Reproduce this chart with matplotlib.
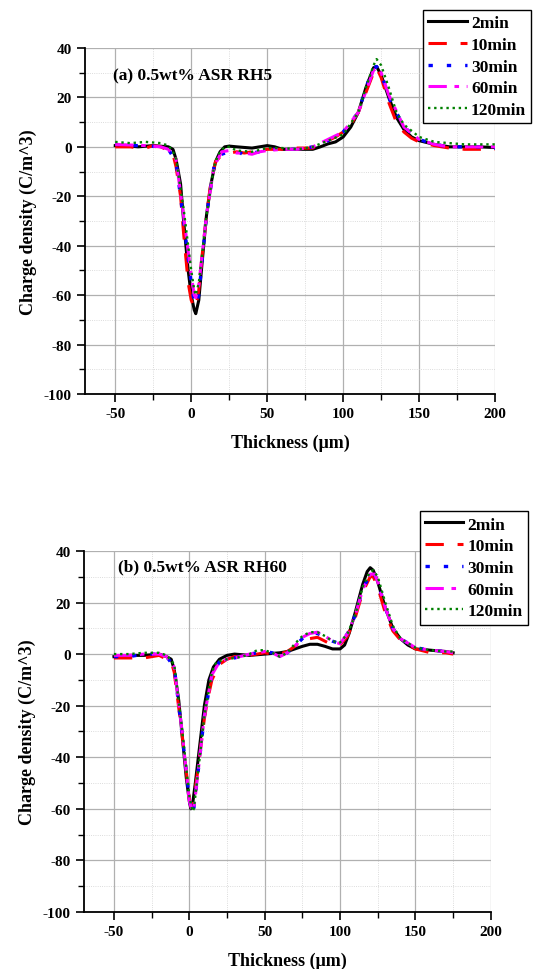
import numpy as np
import matplotlib.pyplot as plt
from matplotlib.ticker import MultipleLocator

plt.rcParams['font.family'] = ['Liberation Serif', 'DejaVu Serif']
plt.rcParams['font.weight'] = 'bold'
plt.rcParams['axes.unicode_minus'] = False

labels = ['2min', '10min', '30min', '60min', '120min']

# ---- panel (a) RH5 ----
a_x_2 = [-50, -40, -35, -25, -15, -12, -10, -7, -5, -2, 0, 2, 3, 5, 7, 10, 13, 16, 19, 22, 25,
         30, 40, 45, 50, 55, 60, 70, 80, 85, 90, 95, 100, 105, 110, 115, 120, 122, 125, 130,
         135, 140, 145, 150, 160, 170, 180, 190, 200]
a_y_2 = [0.5, 0.3, 0, 0.5, 0, -1, -5, -15, -30, -50, -60, -66, -67.5, -62, -48, -28, -15, -6,
         -2, 0, 0.3, 0, -0.5, 0, 0.5, 0, -1, -1, -1, 0, 1.2, 2, 4, 8, 14, 24, 32, 32.5, 29, 20,
         12, 7, 4, 2.5, 1, 0, 0, 0, -0.3]
a_x_10 = [-50, -40, -35, -30, -25, -20, -15, -12, -10, -7, -5, -2, 0, 2, 3, 5, 7, 10, 13, 16,
          19, 22, 25, 30, 35, 40, 45, 50, 60, 70, 80, 85, 90, 95, 100, 105, 110, 115, 120, 122,
          125, 130, 135, 140, 145, 150, 160, 170, 180, 190, 200]
a_y_10 = [0, 0, -0.5, -0.5, 0.5, 0, -1.5, -3, -8, -20, -35, -55, -62, -65, -65, -58, -45, -28,
          -14, -6, -4, -3.5, -2.5, -2, -2.5, -2, -1.5, -1, -1, -0.5, -0.5, 1.5, 2.5, 4, 6, 9, 14,
          22, 30, 32, 28, 18, 10, 6, 3.5, 2, 0.5, -0.5, -1, -1, -1]
a_x_30 = [-50, -40, -30, -20, -15, -10, -5, 0, 2, 3, 5, 10, 15, 20, 25, 30, 35, 40, 45, 50, 60,
          70, 80, 90, 100, 110, 115, 120, 122, 125, 130, 140, 150, 160, 170, 180, 190, 200]
a_y_30 = [1, 0.5, 0.5, 0, -1, -6, -30, -55, -63, -64, -60, -28, -8, -3, -2, -1.5, -3.5, -2.5,
          -2, -1, -1, -1, 0, 2.5, 6, 14, 24, 32, 32.5, 30, 20, 8, 3, 1, 0, 0, 0, -0.5]
a_x_60 = [-50, -30, -20, -15, -10, -5, 0, 2, 3, 5, 10, 15, 20, 25, 30, 35, 40, 45, 50, 60, 70,
          80, 90, 100, 110, 120, 123, 125, 130, 140, 150, 160, 170, 200]
a_y_60 = [1, 0.5, 0, -1, -5, -28, -52, -60, -61, -56, -28, -8, -2, -1.5, -2.5, -2.5, -3, -2,
          -1.5, -1, -1, 0, 3, 6, 14, 31, 32, 30, 21, 8, 3, 1, 0, 0]
a_x_120 = [-50, -40, -30, -20, -15, -12, -10, -5, 0, 2, 3, 5, 10, 15, 18, 22, 25, 30, 40, 50, 60,
           70, 80, 90, 100, 110, 115, 120, 122, 125, 130, 135, 140, 150, 160, 170, 180, 190, 200]
a_y_120 = [2, 1.5, 2, 1.5, 0.5, -2, -5, -25, -50, -58, -60, -55, -28, -8, -3, 0, 0, -1.5, -2,
           -0.5, -0.5, -1, 0, 2.5, 5, 14, 24, 33, 35.5, 33, 24, 14, 9, 4, 2, 1.5, 1, 1, 1]

# ---- panel (b) RH60 ----
b_x_2 = [-50, -40, -30, -20, -15, -12, -10, -7, -5, -2, 0, 1, 2, 4, 7, 10, 13, 16, 20, 25, 30,
         40, 50, 60, 65, 70, 75, 80, 85, 90, 95, 100, 103, 106, 110, 115, 118, 120, 122, 125,
         130, 135, 140, 145, 150, 160, 170, 175]
b_y_2 = [-1, -0.5, -0.5, 0, -1, -2, -6, -18, -30, -48, -57, -60, -59, -50, -35, -20, -10, -5,
         -2, -0.5, 0, -0.5, 0, 0.5, 1, 2, 3, 3.8, 3.8, 3, 2, 2, 3.5, 8, 16, 27, 32, 33.5, 32.5,
         28, 18, 10, 6, 3.5, 2, 1.5, 1, 0.5]
b_x_10 = [-50, -40, -30, -25, -20, -15, -12, -10, -5, 0, 1, 2, 5, 10, 12, 15, 20, 25, 30, 40,
          50, 55, 60, 65, 70, 75, 80, 85, 90, 95, 100, 105, 110, 115, 120, 122, 125, 130, 135,
          140, 150, 160, 170, 175]
b_y_10 = [-1.5, -1.5, -1.5, -1, -0.5, -2, -3, -7, -30, -56, -59, -59, -48, -25, -18, -10, -4,
          -2, -1, -0.5, 0.5, 0, 0, 1, 3, 5.5, 6, 6.5, 5, 3.5, 3.5, 7, 14, 24, 30, 30, 26, 16, 9,
          5.5, 2, 0.5, 0.5, 0]
b_x_30 = [-50, -40, -30, -20, -15, -10, -5, 0, 2, 3, 5, 10, 15, 20, 25, 30, 40, 50, 55, 60, 65,
          70, 75, 80, 85, 90, 95, 100, 105, 110, 115, 120, 122, 125, 130, 135, 140, 150, 160,
          170, 175]
b_y_30 = [-1, -1, 0, 0, -1, -5, -30, -56, -62, -60, -50, -24, -8, -3, -2, -1.5, 0, 1, 0.5, -1,
          0.5, 3, 6, 8, 8, 6.5, 5, 4, 8, 15, 25, 31, 32, 28, 18, 10, 6, 2.5, 1.5, 1, 0.5]
b_x_60 = [-50, -40, -30, -20, -15, -10, -5, 0, 2, 3, 5, 10, 15, 20, 25, 30, 40, 50, 55, 60, 65,
          70, 75, 80, 85, 90, 95, 100, 105, 110, 115, 120, 123, 125, 130, 135, 140, 150, 160,
          170, 175]
b_y_60 = [-0.5, -0.5, 0, 0, -1, -5, -29, -57, -61, -60, -50, -24, -8, -3, -2, -1.5, 0, 1, 0.5,
          -1, 0.5, 3, 6.5, 8, 8.5, 7, 5, 4, 8, 15, 25, 31, 31, 28, 18, 10, 6, 2.5, 1.5, 1, 0.5]
b_x_120 = [-50, -40, -30, -20, -15, -10, -5, 0, 2, 3, 5, 10, 15, 18, 25, 30, 35, 40, 45, 50, 55,
           60, 65, 70, 75, 80, 85, 90, 95, 100, 105, 110, 115, 120, 122, 125, 130, 135, 140,
           150, 160, 170, 175]
b_y_120 = [0, 0, 0.5, 0.5, -0.5, -4, -28, -55, -61, -60, -50, -24, -7, -3, -2, -1.5, -1, 0,
           1.5, 1.5, 0.5, -1, 0.5, 4, 7, 8.5, 8.5, 7, 5, 4.5, 8, 15, 26, 32, 32.5, 30, 20, 11,
           6, 2.5, 1.5, 1, 1]

styles = [
    dict(color='black', linestyle='-', lw=2.2),
    dict(color='red', linestyle=(0, (6, 4.5)), lw=2.2),
    dict(color='blue', linestyle=(0, (1.3, 4.2)), lw=2.4),
    dict(color='magenta', linestyle=(0, (6, 2.5, 1.5, 2.5)), lw=2.2),
    dict(color='green', linestyle=(0, (1, 1.6)), lw=1.7),
]

fig = plt.figure(figsize=(5.37, 9.70), dpi=100)
ax_a = fig.add_axes([0.158, 0.5928, 0.764, 0.3567])
ax_b = fig.add_axes([0.156, 0.0588, 0.758, 0.3722])

panels = [
    (ax_a, [(a_x_2, a_y_2), (a_x_10, a_y_10), (a_x_30, a_y_30), (a_x_60, a_y_60),
            (a_x_120, a_y_120)], '(a) 0.5wt% ASR RH5', (0.068, 0.922), (0.788, 0.9887)),
    (ax_b, [(b_x_2, b_y_2), (b_x_10, b_y_10), (b_x_30, b_y_30), (b_x_60, b_y_60),
            (b_x_120, b_y_120)], '(b) 0.5wt% ASR RH60', (0.084, 0.958), (0.782, 0.472)),
]

for ax, series, note, note_pos, leg_pos in panels:
    lines = []
    for (xs, ys), st, lab in zip(series, styles, labels):
        ln, = ax.plot(xs, ys, label=lab, **st)
        lines.append(ln)
    ax.set_xlim(-70, 200)
    ax.set_ylim(-100, 40)
    ax.xaxis.set_major_locator(MultipleLocator(50))
    ax.xaxis.set_minor_locator(MultipleLocator(25))
    ax.yaxis.set_major_locator(MultipleLocator(20))
    ax.yaxis.set_minor_locator(MultipleLocator(10))
    ax.set_xticks([-50, 0, 50, 100, 150, 200])
    ax.grid(True, which='major', color='#b0b0b0', lw=0.9)
    ax.grid(True, which='minor', color='#d0d0d0', lw=0.6, linestyle=':')
    ax.set_axisbelow(True)
    for s in ['top', 'right']:
        ax.spines[s].set_visible(False)
    for s in ['left', 'bottom']:
        ax.spines[s].set_linewidth(1.3)
    ax.tick_params(which='major', direction='out', length=6, width=1.2, labelsize=11)
    ax.tick_params(which='minor', direction='out', length=4, width=1.0)
    for t in ax.get_xticklabels() + ax.get_yticklabels():
        t.set_fontweight('bold')
    ax.set_xlabel('Thickness (\u03bcm)', fontsize=13, fontweight='bold', labelpad=10)
    ax.set_ylabel('Charge density (C/m^3)', fontsize=13, fontweight='bold', labelpad=5)
    ax.text(note_pos[0], note_pos[1], note, transform=ax.transAxes, fontsize=12.5,
            fontweight='bold', va='center', ha='left')
    fig.legend(handles=lines, loc='upper left', bbox_to_anchor=leg_pos,
               prop={'size': 12.5, 'weight': 'bold'}, frameon=True, fancybox=False,
               edgecolor='black', framealpha=1, handlelength=2.2, handletextpad=0.25,
               labelspacing=0.32, borderpad=0.3, borderaxespad=0)

fig.savefig('out.png', dpi=100)
